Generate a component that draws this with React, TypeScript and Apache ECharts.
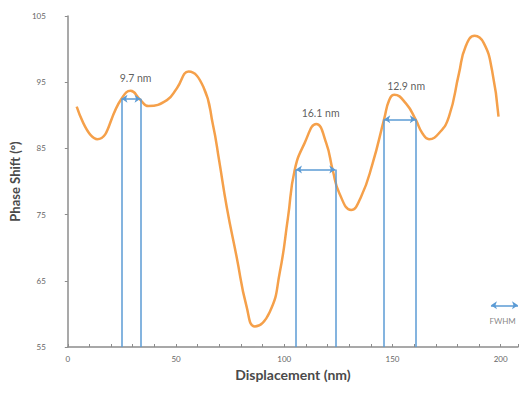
import React, { useEffect, useRef } from "react";
import * as echarts from "echarts";

const displacement = [4.1, 13.6, 24.8, 29, 33.6, 37.2, 45.8, 50.4, 55.8, 62.6, 67.1, 69.9, 73.4, 78, 82.6, 86.4, 93.3, 97.9, 101.7, 104.8, 109.4, 114.8, 119.4, 122.4, 125.5, 130.9, 135.5, 140.8, 146.2, 148.5, 150.8, 156.2, 160.8, 163.8, 166.9, 171.5, 176.1, 180.7, 183.8, 188, 192.2, 196, 199];
const phaseShift = [91.3, 86.4, 92.5, 93.7, 92.3, 91.4, 92.3, 94.1, 96.6, 94.3, 88.5, 83.2, 76.2, 68.6, 61.1, 58.1, 60.3, 66.2, 74.5, 81.7, 85.8, 88.7, 85.8, 81.7, 78.2, 75.7, 77.7, 82.7, 89.5, 92.3, 93.1, 91.8, 89.3, 87.3, 86.4, 87.3, 89.8, 96.3, 100.4, 102, 100.9, 96.8, 89.8];

// FWHM markers: left x, right x, level
const fwhmLeft = [24.8, 105.4, 146.2];
const fwhmRight = [33.6, 123.6, 160.8];
const fwhmLevel = [92.5, 81.8, 89.4];
const fwhmLabels = ["9.7 nm", "16.1 nm", "12.9 nm"];
const fwhmLabelPos: [number, number][] = [[31.3, 95.6], [116.8, 90.3], [156.3, 94.4]];

const legendArrow: [number, number][] = [[195.5, 61.3], [208, 61.3]];
const legendText: [number, number] = [194.8, 58.9];

const FONT = "Lato";
const BLUE = "#5B9BD5";
const ORANGE = "#F5A04A";

export default function App() {
  const ref = useRef<HTMLDivElement>(null);
  useEffect(() => {
    if (!ref.current) return;
    const chart = echarts.init(ref.current, undefined, { renderer: "svg" });
    const markData: any[] = [];
    for (let i = 0; i < fwhmLeft.length; i++) {
      markData.push([
        { coord: [fwhmLeft[i], 55], symbol: "none" },
        { coord: [fwhmLeft[i], fwhmLevel[i]], symbol: "none" },
      ]);
      markData.push([
        { coord: [fwhmRight[i], 55], symbol: "none" },
        { coord: [fwhmRight[i], fwhmLevel[i]], symbol: "none" },
      ]);
      markData.push([
        { coord: [fwhmLeft[i], fwhmLevel[i]], symbol: "arrow" },
        { coord: [fwhmRight[i], fwhmLevel[i]], symbol: "arrow" },
      ]);
    }
    markData.push([
      { coord: legendArrow[0], symbol: "arrow" },
      { coord: legendArrow[1], symbol: "arrow" },
    ]);

    chart.setOption({
      animation: false,
      backgroundColor: "#ffffff",
      textStyle: { fontFamily: FONT },
      grid: { left: 67, top: 16, width: 452.5, height: 331 },
      xAxis: {
        type: "value",
        min: 0,
        max: 208,
        interval: 50,
        name: "Displacement (nm)",
        nameLocation: "middle",
        nameGap: 16,
        nameTextStyle: { fontFamily: FONT, fontSize: 14, fontWeight: "bold", color: "#4a4a4a" },
        axisLine: { show: true, lineStyle: { color: "#8c8c8c", width: 1.5 } },
        axisTick: { show: true, inside: true, length: 3, lineStyle: { color: "#8c8c8c" } },
        minorTick: { show: true, splitNumber: 5, length: 3, lineStyle: { color: "#8c8c8c" } },
        axisLabel: {
          fontFamily: FONT,
          fontSize: 8,
          color: "#666666",
          margin: 8,
          formatter: (v: number) => (v % 50 === 0 ? String(v) : ""),
        },
        splitLine: { show: false },
      },
      yAxis: {
        type: "value",
        min: 55,
        max: 105,
        interval: 10,
        name: "Phase Shift (°)",
        nameLocation: "middle",
        nameGap: 40,
        nameTextStyle: { fontFamily: FONT, fontSize: 13, fontWeight: "bold", color: "#4a4a4a" },
        axisLine: { show: true, lineStyle: { color: "#8c8c8c", width: 1.5 } },
        axisTick: { show: true, length: 3, lineStyle: { color: "#8c8c8c" } },
        axisLabel: { fontFamily: FONT, fontSize: 8, color: "#666666", margin: 22 },
        splitLine: { show: false },
      },
      series: [
        {
          type: "line",
          data: displacement.map((d, i) => [d, phaseShift[i]]),
          smooth: 0.5,
          showSymbol: false,
          lineStyle: { color: ORANGE, width: 2.5 },
          z: 3,
        },
        {
          type: "line",
          data: [],
          silent: true,
          markLine: {
            silent: true,
            symbolSize: 6,
            label: { show: false },
            lineStyle: { color: BLUE, width: 1.5, type: "solid" },
            data: markData,
          },
        },
        {
          type: "scatter",
          symbolSize: 0,
          silent: true,
          data: fwhmLabelPos.map((p, i) => ({ value: p, name: fwhmLabels[i] })),
          label: {
            show: true,
            position: "inside",
            formatter: (p: any) => p.name,
            fontFamily: FONT,
            fontSize: 10.5,
            color: "#333333",
          },
        },
        {
          type: "scatter",
          symbolSize: 0,
          silent: true,
          data: [{ value: legendText, name: "FWHM" }],
          label: {
            show: true,
            position: "right",
            distance: 0,
            formatter: (p: any) => p.name,
            fontFamily: FONT,
            fontSize: 8,
            color: "#666666",
          },
        },
      ],
    });
    return () => chart.dispose();
  }, []);
  return <div ref={ref} style={{ width: 521, height: 399, position: "absolute", left: 0, top: 0 }} />;
}
